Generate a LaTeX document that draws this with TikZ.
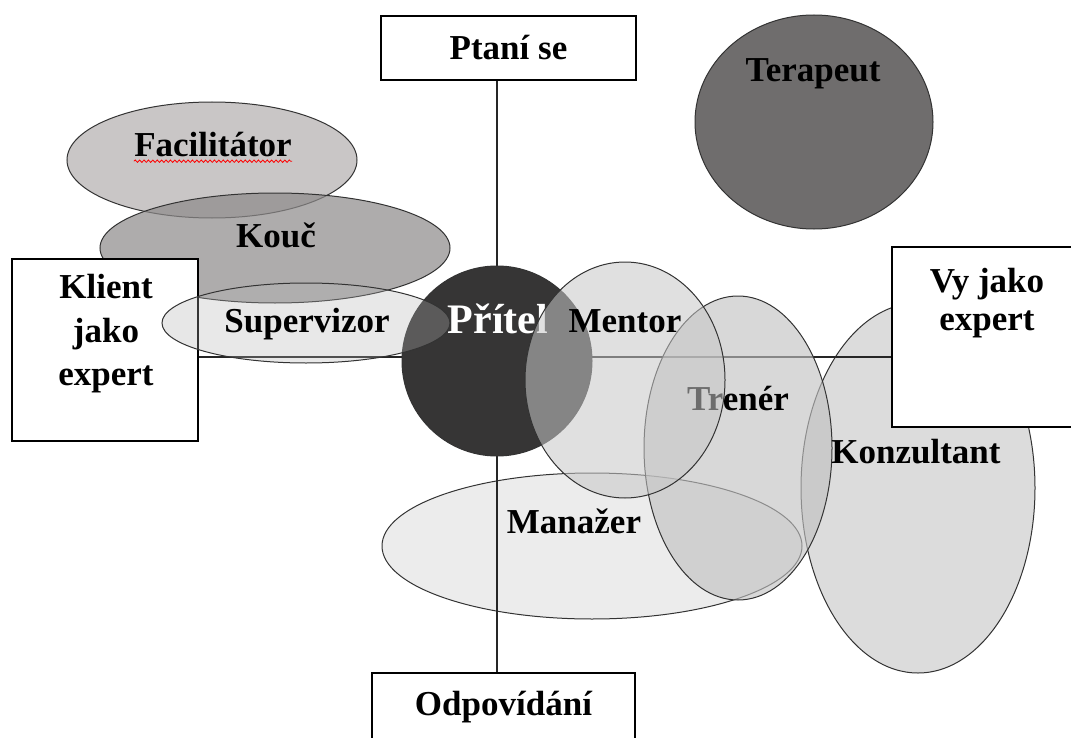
\documentclass[tikz,border=0pt]{standalone}
\usepackage{fontspec}
\setmainfont{Liberation Serif}
\usetikzlibrary{shapes.geometric, decorations.pathmorphing}
\definecolor{facil}{HTML}{C9C6C6}
\definecolor{kouc}{HTML}{8D8A8A}
\definecolor{konz}{HTML}{DCDCDC}
\definecolor{manaz}{HTML}{ECECEC}
\definecolor{terap}{HTML}{6F6D6D}
\definecolor{pritel}{HTML}{363535}
\definecolor{superv}{HTML}{B2B2B2}
\definecolor{trener}{HTML}{C1C1C1}
\definecolor{mentor}{HTML}{C7C7C7}
\tikzset{
    box/.style={draw, line width=.9pt, fill=white, inner sep=0pt, font=\fontsize{17.5}{21}\selectfont\bfseries},
    blob/.style={ellipse, draw=black!80, line width=.5pt, inner sep=0pt},
    lbl/.style={font=\fontsize{17.5}{21}\selectfont\bfseries, align=center, inner sep=0pt},
    squig/.style={red, line width=.4pt, decorate, decoration={snake, amplitude=.6pt, segment length=2.2pt}}
}

\begin{document}
\begin{tikzpicture}[x=.5pt, y=-.5pt]
    \useasboundingbox(0,0)rectangle(1071,738);
    \clip(0,0)rectangle(1071,738);
    \coordinate(mid)at(497,357);
    % ellipses lying under the boxes
    \node[blob, fill=facil, minimum width=145pt, minimum height=58pt](facil)at(212,160){};
    \node[blob, fill=kouc, fill opacity=.71, minimum width=175pt, minimum height=55pt](kouc)at(275,248){};
    \node[blob, fill=konz, minimum width=117pt, minimum height=185pt](konz)at(918,488){};
    \node[blob, fill=manaz, minimum width=210pt, minimum height=73pt](manaz)at(592,546){};
    \node[blob, fill=terap, minimum width=119pt, minimum height=107pt](terap)at(814,122){};
    % the four poles
    \node[box, minimum width=127.5pt, minimum height=32pt](ptani)at(508.5,48){Ptaní se};
    \node[box, minimum width=131.5pt, minimum height=34pt](odpov)at(503.5,707){Odpovídání};
    \node[box, minimum width=93pt, minimum height=91pt](klient)at(105,350){};
    \node[box, minimum width=94pt, minimum height=90pt](vy)at(986,337){};
    \node[lbl, font=\fontsize{17.5}{21.75}\selectfont\bfseries](tklient)at(106,334){Klient\\jako\\expert};
    \node[lbl, font=\fontsize{17.5}{19}\selectfont\bfseries](tvy)at(987,303){Vy jako\\expert};
    \draw[line width=.6pt, black!85](ptani.south -| mid)--(odpov.north -| mid);
    \draw[line width=.6pt, black!85](klient.east |- mid)--(vy.west |- mid);
    % roles drawn over the axes
    \node[blob, fill=pritel, minimum size=95pt](pritel)at(497,361){};
    \node[lbl, white, font=\fontsize{21}{25}\selectfont\bfseries, anchor=base](tpritel)at(498,333){Přítel};
    \node[blob, fill=superv, fill opacity=.3, minimum width=144pt, minimum height=40pt](superv)at(306,323){};
    \node[blob, fill=trener, fill opacity=.63, minimum width=94pt, minimum height=152pt](trener)at(738,448){};
    \node[lbl, anchor=base](ttrener)at(738,410){Trenér};
    \node[blob, fill=mentor, fill opacity=.55, minimum width=100pt, minimum height=118pt](mentor)at(625,380){};
    % labels
    \node[lbl, anchor=base](tfacil)at(213,156){Facilitátor};
    \draw[squig]([yshift=-2.6pt]tfacil.base west)--([yshift=-2.6pt]tfacil.base east);
    \node[lbl, anchor=base](tkouc)at(276,247){Kouč};
    \node[lbl, anchor=base](tsuperv)at(307,332){Supervizor};
    \node[lbl, anchor=base](tmentor)at(625,332){Mentor};
    \node[lbl, anchor=base](tmanaz)at(574,533){Manažer};
    \node[lbl, anchor=base](tkonz)at(916,463){Konzultant};
    \node[lbl, anchor=base](tterap)at(813,82){Terapeut};
\end{tikzpicture}
\end{document}
